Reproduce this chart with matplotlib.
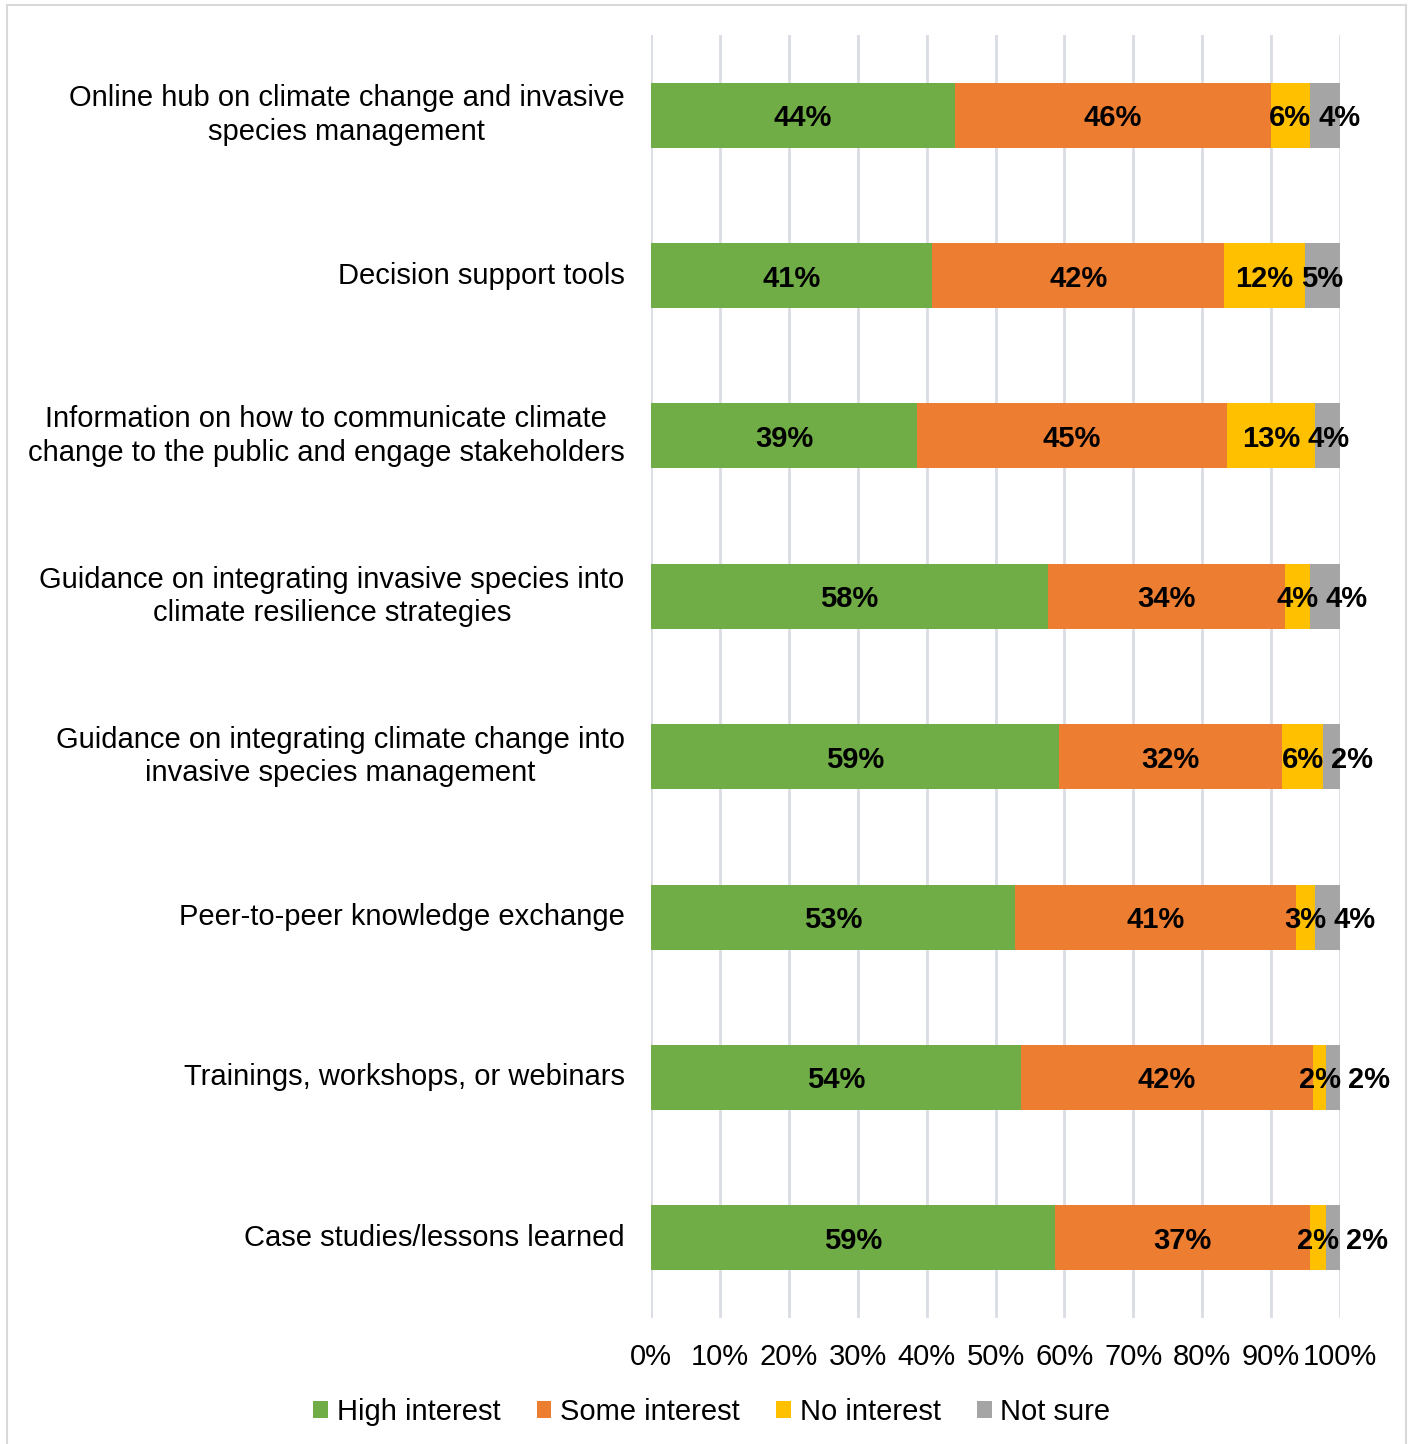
import matplotlib
matplotlib.use("Agg")
import matplotlib.pyplot as plt
import numpy as np
from matplotlib.lines import Line2D

plt.rcParams['font.family'] = ['Liberation Sans', 'DejaVu Sans']

# survey answers, share of respondents (%), listed top to bottom
categories = [
    "Online hub on climate change and invasive\nspecies management",
    "Decision support tools",
    "Information on how to communicate climate\nchange to the public and engage stakeholders",
    "Guidance on integrating invasive species into\nclimate resilience strategies",
    "Guidance on integrating climate change into\ninvasive species management",
    "Peer-to-peer knowledge exchange",
    "Trainings, workshops, or webinars",
    "Case studies/lessons learned",
]
high_interest = [44.1, 40.8, 38.6, 57.6, 59.2, 52.8, 53.7, 58.6]
some_interest = [45.9, 42.4, 45.0, 34.4, 32.4, 40.8, 42.4, 37.0]
no_interest   = [5.6, 11.7, 12.8, 3.6, 6.0, 2.8, 1.9, 2.4]
not_sure      = [4.4, 5.1, 3.6, 4.4, 2.4, 3.6, 2.0, 2.0]

series_names = ["High interest", "Some interest", "No interest", "Not sure"]
colors = ["#70AD47", "#ED7D31", "#FFC000", "#A5A5A5"]
x_ticks = list(range(0, 101, 10))

FS = 21

fig = plt.figure(figsize=(14.14, 14.44), dpi=100)
ax = fig.add_axes([651 / 1414, 1 - 1318 / 1444, 689 / 1414, 1283 / 1444])

y = np.arange(len(categories))
left = np.zeros(len(categories))
series = [high_interest, some_interest, no_interest, not_sure]
yellow_texts = []
for k, (vals, name, col) in enumerate(zip(series, series_names, colors)):
    vals = np.array(vals)
    ax.barh(y, vals, left=left, height=0.405, color=col, label=name, zorder=3)
    for i, v in enumerate(vals):
        txt = f"{v:.0f}%"
        if k < 3:
            t = ax.text(left[i] + v / 2, y[i], txt, ha='center',
                        va='center_baseline', fontsize=FS,
                        fontweight='bold', zorder=4)
            if k == 2:
                yellow_texts.append(t)
        else:
            # small last segment: push the label just past the yellow one
            ax.annotate(txt, xy=(1, 0.5), xycoords=yellow_texts[i],
                        xytext=(5, 0), textcoords='offset points',
                        ha='left', va='center', fontsize=FS,
                        fontweight='bold', zorder=4, annotation_clip=False)
    left += vals

ax.set_xlim(0, 100)
ax.set_ylim(len(categories) - 0.5, -0.5)
ax.set_xticks(x_ticks)
ax.set_xticklabels([f"{t}%" for t in x_ticks])
ax.set_yticks(y)
ax.set_yticklabels(categories)
for t in ax.get_yticklabels():
    t.set_multialignment('center')
    t.set_linespacing(1.25)
    t.set_verticalalignment('center')
ax.tick_params(axis='x', length=0, pad=18, labelsize=FS)
ax.tick_params(axis='y', length=0, pad=19, labelsize=FS)
ax.grid(axis='x', color='#D9DDE3', linewidth=2, zorder=0)
for s in ax.spines.values():
    s.set_visible(False)

fig.legend(loc='center', bbox_to_anchor=(712 / 1414, 1 - 1412 / 1444),
           ncol=4, frameon=False, fontsize=FS, handlelength=0.5,
           handleheight=0.5, handletextpad=0.3, columnspacing=1.25)

# outer chart frame
fc = '#D9D9D9'
fig.add_artist(Line2D([7 / 1414, 7 / 1414], [0, 1 - 5 / 1444], color=fc, lw=1.5))
fig.add_artist(Line2D([1406 / 1414, 1406 / 1414], [0, 1 - 5 / 1444], color=fc, lw=1.5))
fig.add_artist(Line2D([7 / 1414, 1406 / 1414], [1 - 5 / 1444, 1 - 5 / 1444], color=fc, lw=1.5))

fig.savefig("out.png", dpi=100)
